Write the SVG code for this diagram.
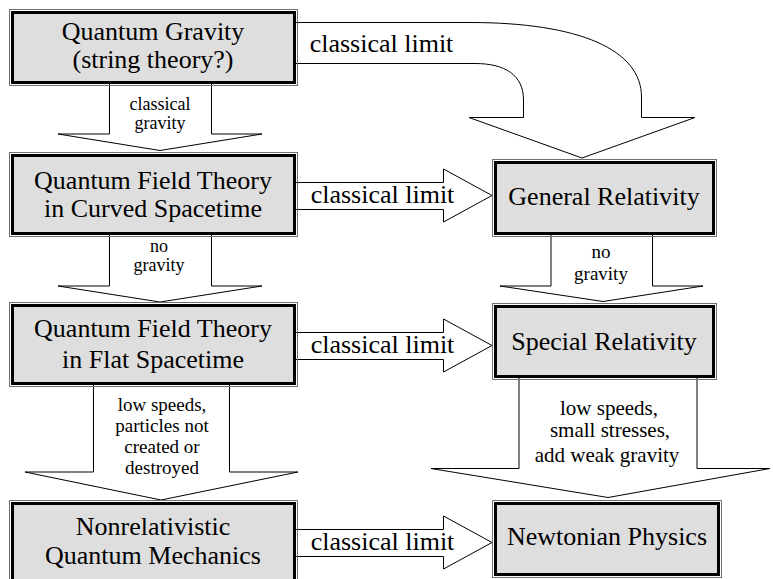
<svg xmlns="http://www.w3.org/2000/svg" width="773" height="579" viewBox="0 0 773 579">
<style>
.bg{fill:#ffffff}
.arr{fill:#ffffff;stroke:#000;stroke-width:1;stroke-linejoin:miter}
.outer{fill:none;stroke:#707070;stroke-width:1}
.inner{fill:#dedede;stroke:#000;stroke-width:3}
text{font-family:'Liberation Serif','Times New Roman','DejaVu Serif',serif;fill:#000;text-anchor:middle}
.t{font-size:26px}
.s{font-size:21px}
.xs{font-size:18px}
.ms{font-size:19px}
</style>
<rect class="bg" x="0" y="0" width="773" height="579"/>
<g id="connectors">
  <path class="arr" d="M290 22.5 L470 22.5 C580 22.5 641.5 50 641.5 97 L641.5 117.5 L695 117.5 L582 158 L469 117.5 L523.5 117.5 L523.5 100 C523.5 75 505 63.5 475 63.5 L290 63.5 Z"/>
  <text class="t" x="381.5" y="52">classical limit</text>
  <polygon class="arr" points="109.5,80 109.5,134 58,134 160,150.5 262,134 211.5,134 211.5,80"/>
  <text class="xs" x="160" y="110">classical</text>
  <text class="xs" x="160" y="129">gravity</text>
  <polygon class="arr" points="109.5,230 109.5,286 58,286 160,302 262,286 211.5,286 211.5,230"/>
  <text class="xs" x="159" y="252">no</text>
  <text class="xs" x="159" y="271">gravity</text>
  <polygon class="arr" points="93.5,380 93.5,472 25,472 161,500 298,472 229.5,472 229.5,380"/>
  <text class="ms" x="162" y="411">low speeds,</text>
  <text class="ms" x="162" y="432">particles not</text>
  <text class="ms" x="162" y="453">created or</text>
  <text class="ms" x="162" y="474">destroyed</text>
  <polygon class="arr" points="290,182.5 443.5,182.5 443.5,169 492,195.5 443.5,222 443.5,209.5 290,209.5"/>
  <text class="t" x="382.5" y="203">classical limit</text>
  <polygon class="arr" points="290,332.5 443.5,332.5 443.5,319 492,345.5 443.5,372 443.5,359.5 290,359.5"/>
  <text class="t" x="382.5" y="353">classical limit</text>
  <polygon class="arr" points="290,529.5 443.5,529.5 443.5,516 492,542.5 443.5,569 443.5,556.5 290,556.5"/>
  <text class="t" x="382.5" y="550">classical limit</text>
  <polygon class="arr" points="551,230 551,286 500,286 603,301.5 703,286 652.5,286 652.5,230"/>
  <text class="ms" x="601" y="258">no</text>
  <text class="ms" x="601" y="280">gravity</text>
  <polygon class="arr" points="519,372 519,468.5 431,468.5 608,497.5 770,468.5 697,468.5 697,372"/>
  <text class="s" x="609" y="415">low speeds,</text>
  <text class="s" x="610" y="437">small stresses,</text>
  <text class="s" x="607" y="462">add weak gravity</text>
</g>
<g id="quantum-gravity">
  <rect class="outer" x="9.5" y="9.5" width="288" height="76"/>
  <rect class="inner" x="12.5" y="12.5" width="282" height="70"/>
  <text class="t" x="153" y="40">Quantum Gravity</text>
  <text class="t" x="153" y="68">(string theory?)</text>
</g>
<g id="qft-curved">
  <rect class="outer" x="9.5" y="152.5" width="288" height="84"/>
  <rect class="inner" x="12.5" y="155.5" width="282" height="78"/>
  <text class="t" x="153" y="188.5">Quantum Field Theory</text>
  <text class="t" x="153" y="217">in Curved Spacetime</text>
</g>
<g id="qft-flat">
  <rect class="outer" x="9.5" y="302.5" width="288" height="84"/>
  <rect class="inner" x="12.5" y="305.5" width="282" height="78"/>
  <text class="t" x="153" y="337">Quantum Field Theory</text>
  <text class="t" x="153" y="368">in Flat Spacetime</text>
</g>
<g id="nonrel-qm">
  <rect class="outer" x="9.5" y="500.5" width="288" height="95"/>
  <rect class="inner" x="12.5" y="503.5" width="282" height="89"/>
  <text class="t" x="153" y="535">Nonrelativistic</text>
  <text class="t" x="153" y="564">Quantum Mechanics</text>
</g>
<g id="general-relativity">
  <rect class="outer" x="492.5" y="159.5" width="224" height="77"/>
  <rect class="inner" x="495.5" y="162.5" width="218" height="71"/>
  <text class="t" x="604" y="205">General Relativity</text>
</g>
<g id="special-relativity">
  <rect class="outer" x="492.5" y="303.5" width="224" height="76"/>
  <rect class="inner" x="495.5" y="306.5" width="218" height="70"/>
  <text class="t" x="604" y="350">Special Relativity</text>
</g>
<g id="newtonian-physics">
  <rect class="outer" x="492.5" y="500.5" width="229" height="77"/>
  <rect class="inner" x="495.5" y="503.5" width="223" height="71"/>
  <text class="t" x="607" y="545">Newtonian Physics</text>
</g>
</svg>
